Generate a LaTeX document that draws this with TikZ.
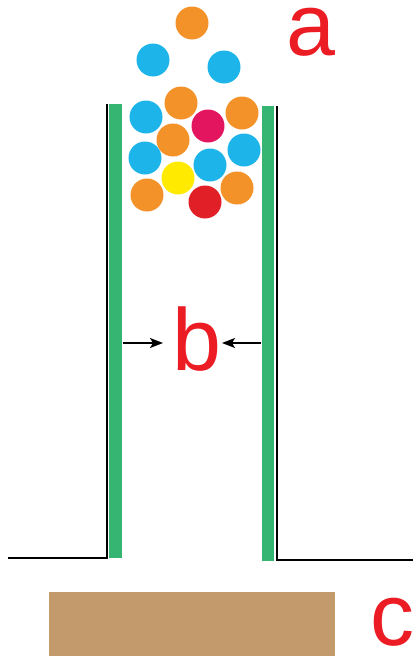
\documentclass[tikz,border=0pt]{standalone}
\usepackage{fontspec}
\setmainfont{Liberation Sans}
\usetikzlibrary{arrows.meta}
\definecolor{ballorange}{HTML}{F39229}
\definecolor{ballblue}{HTML}{1DB4E9}
\definecolor{ballmagenta}{HTML}{E3155F}
\definecolor{ballyellow}{HTML}{FFEA00}
\definecolor{ballred}{HTML}{E01F26}
\definecolor{wallgreen}{HTML}{35B472}
\definecolor{brown}{HTML}{C39A6C}
\definecolor{labelred}{HTML}{EC1C24}
\tikzset{
  ball/.style={circle, minimum size=33pt, inner sep=0pt, fill=#1},
  lbl/.style={text=labelred, inner sep=0pt, anchor=base, text depth=0pt, font=\fontsize{88}{88}\selectfont},
  wall/.style={fill=wallgreen, draw=none},
  edge/.style={draw=black, line width=1.6pt},
  gap/.style={draw=black, line width=1.4pt, -{Stealth[length=13pt,width=10pt,inset=3pt]}}
}
\begin{document}
\begin{tikzpicture}[x=1pt,y=-1pt]
\useasboundingbox (0,0) rectangle (413,656);
% walls
\fill[wall] (109,104) rectangle (122,558);
\fill[wall] (262,106) rectangle (274,561);
\draw[edge] (8,558) -- (107,558) -- (107,104);
\draw[edge] (413,560) -- (277,560) -- (277,106);
% base
\fill[brown] (49,592) rectangle (335,656);
% balls
\node[ball=ballorange] (b1) at (192,23) {};
\node[ball=ballblue] (b2) at (153,60) {};
\node[ball=ballblue] (b3) at (224,67) {};
\node[ball=ballorange] (b4) at (181,103) {};
\node[ball=ballblue] (b5) at (146,117) {};
\node[ball=ballorange] (b6) at (242,113) {};
\node[ball=ballmagenta] (b7) at (208,126) {};
\node[ball=ballorange] (b8) at (173,140) {};
\node[ball=ballblue] (b9) at (244,150) {};
\node[ball=ballblue] (b10) at (145,158) {};
\node[ball=ballblue] (b11) at (210,165) {};
\node[ball=ballyellow] (b12) at (178,178) {};
\node[ball=ballorange] (b13) at (147,195) {};
\node[ball=ballorange] (b15) at (237,188) {};
\node[ball=ballred] (b14) at (205,202) {};
% labels
\node[lbl, text height=46pt] (la) at (311,55) {a};
\node[lbl] (lb) at (197,370) {b};
\node[lbl, text height=46pt] (lc) at (392,645) {c};
% arrows
\coordinate (al) at (123,343);
\coordinate (ar) at (261,343);
\coordinate (alt) at (163,343);
\coordinate (art) at (222,343);
\draw[gap] (al) -- (alt);
\draw[gap] (ar) -- (art);
\end{tikzpicture}
\end{document}
